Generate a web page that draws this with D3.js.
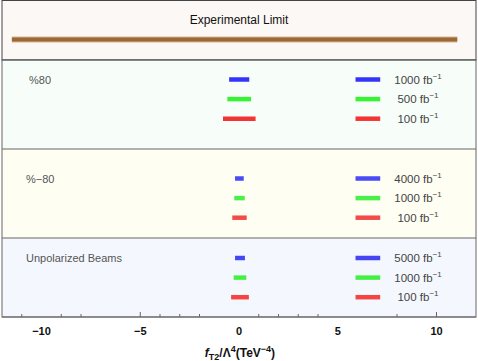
<!DOCTYPE html>
<html>
<head>
<meta charset="utf-8">
<script src="https://cdn.jsdelivr.net/npm/d3@7"></script>
<style>
  body { margin: 0; background: #fff; }
  svg text { font-family: "Liberation Sans", Arial, sans-serif; }
</style>
</head>
<body>
<svg id="chart" width="478" height="361"></svg>
<script>
// data
var panelNames = ["%80", "%\u221280", "Unpolarized Beams"];
var lumis = [
  ["1000", "500", "100"],
  ["4000", "1000", "100"],
  ["5000", "1000", "100"]
];
var lowerLimits = [
  [-0.50, -0.59, -0.81],
  [-0.20, -0.24, -0.34],
  [-0.20, -0.27, -0.40]
];
var upperLimits = [
  [0.52, 0.61, 0.84],
  [0.24, 0.29, 0.39],
  [0.30, 0.37, 0.50]
];
var expLimit = [-11.5, 11.05];
var majorTicks = [-10, -5, 0, 5, 10];
var tickMarks = [-11, -9, -8, -5, -4, -3, -2, 1, 2, 3, 4, 8, 10];
var longTicks = [-5, 10];

chart();

function chart() {
  var svg = d3.select("#chart"),
    LEFT = 2, RIGHT = 476,
    AXIS_Y = 317;

  var x = d3.scaleLinear().domain([-12, 12]).range([LEFT, RIGHT]);

  var panelTops = [60, 149, 238];
  var panelBottoms = [149, 238, AXIS_Y];
  var panelFills = ["#f7fef9", "#fefef3", "#f4f8fe"];
  var rowStart = [19.5, 29.5, 20];
  var rowStep = 19.6;
  var colors = [
    ["#3434fb", "#34f434", "#f43434"],
    ["#4a4af6", "#4af04a", "#f44a4a"],
    ["#4545f4", "#45f045", "#f44545"]
  ];
  var legendX = [5.9, 7.15];

  // top panel
  svg.append("rect")
    .attr("x", LEFT).attr("y", 0.5)
    .attr("width", RIGHT - LEFT).attr("height", 59.5)
    .attr("fill", "#fcf8f5").attr("stroke", "#444").attr("stroke-width", 1);

  svg.append("text")
    .attr("x", x(0)).attr("y", 24)
    .attr("text-anchor", "middle")
    .attr("font-size", 12).attr("fill", "#111")
    .text("Experimental Limit");

  svg.append("line")
    .attr("x1", x(expLimit[0])).attr("x2", x(expLimit[1]))
    .attr("y1", 39.5).attr("y2", 39.5)
    .attr("stroke", "#d7b693").attr("stroke-width", 6);
  svg.append("line")
    .attr("x1", x(expLimit[0])).attr("x2", x(expLimit[1]))
    .attr("y1", 39.5).attr("y2", 39.5)
    .attr("stroke", "#9a6935").attr("stroke-width", 4);

  panelNames.forEach(function (name, p) {
    var g = svg.append("g");
    g.append("rect")
      .attr("x", LEFT).attr("y", panelTops[p])
      .attr("width", RIGHT - LEFT).attr("height", panelBottoms[p] - panelTops[p])
      .attr("fill", panelFills[p]);

    g.append("text")
      .attr("x", p == 0 ? 29 : 26).attr("y", panelTops[p] + rowStart[p] + 4)
      .attr("font-size", 11).attr("fill", "#555")
      .text(name);

    lumis[p].forEach(function (l, i) {
      var yy = panelTops[p] + rowStart[p] + i * rowStep;
      g.append("line")
        .attr("x1", x(lowerLimits[p][i])).attr("x2", x(upperLimits[p][i]))
        .attr("y1", yy).attr("y2", yy)
        .attr("stroke", colors[p][i]).attr("stroke-width", 4.5);
      g.append("line")
        .attr("x1", x(legendX[0])).attr("x2", x(legendX[1]))
        .attr("y1", yy).attr("y2", yy)
        .attr("stroke", colors[p][i]).attr("stroke-width", 4.5);
      var t = g.append("text")
        .attr("x", 418).attr("y", yy + 4)
        .attr("text-anchor", "middle")
        .attr("font-size", 11.5).attr("fill", "#444");
      t.append("tspan").text(l + " fb");
      t.append("tspan").attr("dy", -5).attr("font-size", 8).text("\u22121");
    });
  });

  // panel separators and frame
  [149, 238].forEach(function (yy) {
    svg.append("line")
      .attr("x1", LEFT).attr("x2", RIGHT)
      .attr("y1", yy).attr("y2", yy)
      .attr("stroke", "#666").attr("stroke-width", 1.2);
  });
  svg.append("line")
    .attr("x1", LEFT).attr("x2", RIGHT)
    .attr("y1", 60).attr("y2", 60)
    .attr("stroke", "#555").attr("stroke-width", 1.2);
  svg.append("rect")
    .attr("x", LEFT).attr("y", 60)
    .attr("width", RIGHT - LEFT).attr("height", AXIS_Y - 60)
    .attr("fill", "none").attr("stroke", "#666").attr("stroke-width", 1);

  // x axis
  svg.append("g")
    .attr("transform", "translate(0," + AXIS_Y + ")")
    .selectAll("line")
    .data(tickMarks)
    .enter().append("line")
    .attr("x1", function (d) { return x(d); })
    .attr("x2", function (d) { return x(d); })
    .attr("y1", 0)
    .attr("y2", function (d) { return longTicks.indexOf(d) >= 0 ? -5 : -3; })
    .attr("stroke", "#666");

  svg.append("line")
    .attr("x1", LEFT).attr("x2", RIGHT)
    .attr("y1", AXIS_Y).attr("y2", AXIS_Y)
    .attr("stroke", "#666").attr("stroke-width", 1.2);

  svg.append("g")
    .selectAll("text")
    .data(majorTicks)
    .enter().append("text")
    .attr("x", function (d) { return x(d); })
    .attr("y", AXIS_Y + 18)
    .attr("text-anchor", "middle")
    .attr("font-size", 11).attr("font-weight", "bold").attr("fill", "#111")
    .text(function (d) { return d < 0 ? "\u2212" + (-d) : d; });

  var title = svg.append("text")
    .attr("x", x(0.05)).attr("y", AXIS_Y + 40)
    .attr("text-anchor", "middle")
    .attr("font-size", 12).attr("font-weight", "bold").attr("fill", "#111");
  title.append("tspan").attr("font-style", "italic").text("f");
  title.append("tspan").attr("dy", 3).attr("font-size", 9).text("T2");
  title.append("tspan").attr("dy", -3).text("/\u039b");
  title.append("tspan").attr("dy", -5).attr("font-size", 9).text("4");
  title.append("tspan").attr("dy", 5).text("(TeV");
  title.append("tspan").attr("dy", -5).attr("font-size", 9).text("\u22124");
  title.append("tspan").attr("dy", 5).text(")");
}
</script>
</body>
</html>
